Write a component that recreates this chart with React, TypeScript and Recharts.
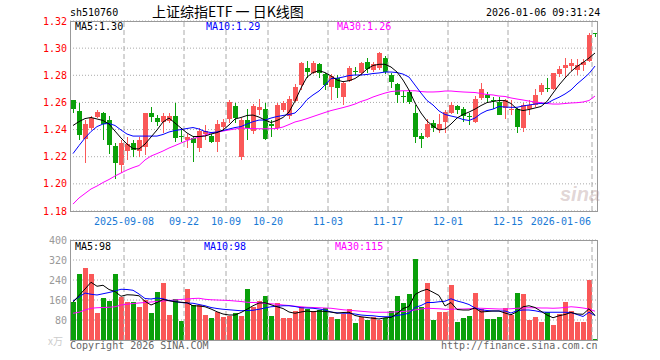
import React from 'react';
import { ComposedChart, Bar, Line, XAxis, YAxis, CartesianGrid, ReferenceLine } from 'recharts';

const dates = [
  '2025-08-26', '2025-08-27', '2025-08-28', '2025-08-29', '2025-09-01', '2025-09-02', '2025-09-03', '2025-09-04', '2025-09-05', '2025-09-08',
  '2025-09-09', '2025-09-10', '2025-09-11', '2025-09-12', '2025-09-15', '2025-09-16', '2025-09-17', '2025-09-18', '2025-09-19', '2025-09-22',
  '2025-09-23', '2025-09-24', '2025-09-25', '2025-09-26', '2025-09-29', '2025-09-30', '2025-10-09', '2025-10-10', '2025-10-13', '2025-10-14',
  '2025-10-15', '2025-10-16', '2025-10-17', '2025-10-20', '2025-10-21', '2025-10-22', '2025-10-23', '2025-10-24', '2025-10-27', '2025-10-28',
  '2025-10-29', '2025-10-30', '2025-10-31', '2025-11-03', '2025-11-04', '2025-11-05', '2025-11-06', '2025-11-07', '2025-11-10', '2025-11-11',
  '2025-11-12', '2025-11-13', '2025-11-14', '2025-11-17', '2025-11-18', '2025-11-19', '2025-11-20', '2025-11-21', '2025-11-24', '2025-11-25',
  '2025-11-26', '2025-11-27', '2025-11-28', '2025-12-01', '2025-12-02', '2025-12-03', '2025-12-04', '2025-12-05', '2025-12-08', '2025-12-09',
  '2025-12-10', '2025-12-11', '2025-12-12', '2025-12-15', '2025-12-16', '2025-12-17', '2025-12-18', '2025-12-19', '2025-12-22', '2025-12-23',
  '2025-12-24', '2025-12-25', '2025-12-26', '2025-12-29', '2025-12-30', '2025-12-31', '2026-01-05', '2026-01-06',
];

const opens = [
  1.2618, 1.2537, 1.2331, 1.2409, 1.2490, 1.2524, 1.2470, 1.2279, 1.2139, 1.2244,
  1.2303, 1.2244, 1.2274, 1.2524, 1.2487, 1.2458, 1.2465, 1.2500, 1.2355, 1.2325,
  1.2340, 1.2266, 1.2370, 1.2353, 1.2306, 1.2417, 1.2476, 1.2574, 1.2200, 1.2470,
  1.2392, 1.2544, 1.2550, 1.2440, 1.2410, 1.2544, 1.2500, 1.2610, 1.2728, 1.2851,
  1.2819, 1.2881, 1.2809, 1.2716, 1.2780, 1.2640, 1.2760, 1.2829, 1.2815, 1.2900,
  1.2839, 1.2851, 1.2930, 1.2802, 1.2736, 1.2646, 1.2680, 1.2520, 1.2353, 1.2347,
  1.2446, 1.2397, 1.2458, 1.2524, 1.2574, 1.2549, 1.2497, 1.2458, 1.2630, 1.2655,
  1.2620, 1.2605, 1.2557, 1.2549, 1.2549, 1.2410, 1.2549, 1.2581, 1.2679, 1.2706,
  1.2697, 1.2809, 1.2851, 1.2871, 1.2839, 1.2876, 1.2907, 1.3110,
];
const highs = [
  1.2620, 1.2598, 1.2470, 1.2500, 1.2544, 1.2530, 1.2500, 1.2299, 1.2323, 1.2347,
  1.2323, 1.2343, 1.2525, 1.2568, 1.2507, 1.2520, 1.2524, 1.2598, 1.2400, 1.2370,
  1.2350, 1.2410, 1.2434, 1.2370, 1.2470, 1.2475, 1.2618, 1.2594, 1.2483, 1.2550,
  1.2590, 1.2623, 1.2594, 1.2470, 1.2594, 1.2610, 1.2645, 1.2735, 1.2895, 1.2905,
  1.2905, 1.2893, 1.2815, 1.2810, 1.2802, 1.2753, 1.2870, 1.2863, 1.2900, 1.2925,
  1.2900, 1.2969, 1.2940, 1.2815, 1.2741, 1.2686, 1.2690, 1.2581, 1.2373, 1.2476,
  1.2470, 1.2515, 1.2544, 1.2601, 1.2580, 1.2568, 1.2520, 1.2645, 1.2746, 1.2680,
  1.2640, 1.2640, 1.2623, 1.2618, 1.2557, 1.2594, 1.2620, 1.2697, 1.2741, 1.2778,
  1.2820, 1.2868, 1.2925, 1.2918, 1.2918, 1.2920, 1.3114, 1.3110,
];
const lows = [
  1.2520, 1.2323, 1.2156, 1.2397, 1.2483, 1.2323, 1.2220, 1.2034, 1.2078, 1.2176,
  1.2196, 1.2200, 1.2213, 1.2458, 1.2426, 1.2375, 1.2450, 1.2310, 1.2310, 1.2262,
  1.2158, 1.2237, 1.2323, 1.2300, 1.2237, 1.2390, 1.2446, 1.2446, 1.2176, 1.2323,
  1.2370, 1.2507, 1.2323, 1.2347, 1.2397, 1.2530, 1.2480, 1.2600, 1.2692, 1.2778,
  1.2810, 1.2778, 1.2692, 1.2618, 1.2630, 1.2581, 1.2750, 1.2800, 1.2805, 1.2820,
  1.2826, 1.2840, 1.2810, 1.2704, 1.2598, 1.2594, 1.2590, 1.2299, 1.2262, 1.2335,
  1.2384, 1.2377, 1.2377, 1.2515, 1.2515, 1.2458, 1.2433, 1.2446, 1.2618, 1.2605,
  1.2552, 1.2507, 1.2478, 1.2507, 1.2377, 1.2384, 1.2507, 1.2569, 1.2655, 1.2679,
  1.2690, 1.2790, 1.2790, 1.2834, 1.2800, 1.2834, 1.2900, 1.3084,
];
const closes = [
  1.2549, 1.2360, 1.2441, 1.2483, 1.2532, 1.2441, 1.2286, 1.2151, 1.2299, 1.2291,
  1.2249, 1.2323, 1.2520, 1.2490, 1.2458, 1.2500, 1.2500, 1.2340, 1.2345, 1.2345,
  1.2303, 1.2392, 1.2390, 1.2311, 1.2441, 1.2458, 1.2605, 1.2487, 1.2470, 1.2409,
  1.2574, 1.2564, 1.2330, 1.2425, 1.2581, 1.2598, 1.2625, 1.2716, 1.2888, 1.2826,
  1.2893, 1.2819, 1.2728, 1.2795, 1.2710, 1.2741, 1.2851, 1.2822, 1.2888, 1.2850,
  1.2880, 1.2962, 1.2826, 1.2748, 1.2654, 1.2640, 1.2601, 1.2347, 1.2331, 1.2441,
  1.2409, 1.2441, 1.2532, 1.2581, 1.2544, 1.2500, 1.2494, 1.2623, 1.2697, 1.2630,
  1.2615, 1.2507, 1.2618, 1.2551, 1.2417, 1.2581, 1.2581, 1.2655, 1.2728, 1.2704,
  1.2815, 1.2844, 1.2876, 1.2893, 1.2876, 1.2900, 1.3097, 1.3108,
];

const ma5 = [
  1.2430, 1.2459, 1.2481, 1.2489, 1.2478, 1.2467, 1.2441, 1.2389, 1.2338, 1.2293,
  1.2260, 1.2257, 1.2293, 1.2345, 1.2397, 1.2456, 1.2485, 1.2448, 1.2411, 1.2375,
  1.2349, 1.2349, 1.2352, 1.2367, 1.2378, 1.2397, 1.2434, 1.2478, 1.2489, 1.2504,
  1.2507, 1.2492, 1.2470, 1.2452, 1.2467, 1.2489, 1.2529, 1.2610, 1.2706, 1.2787,
  1.2820, 1.2834, 1.2820, 1.2795, 1.2765, 1.2753, 1.2760, 1.2776, 1.2806, 1.2846,
  1.2872, 1.2881, 1.2881, 1.2861, 1.2824, 1.2765, 1.2691, 1.2596, 1.2522, 1.2463,
  1.2426, 1.2397, 1.2404, 1.2441, 1.2485, 1.2511, 1.2529, 1.2551, 1.2577, 1.2599,
  1.2607, 1.2614, 1.2613, 1.2592, 1.2551, 1.2540, 1.2548, 1.2559, 1.2570, 1.2607,
  1.2669, 1.2728, 1.2780, 1.2828, 1.2865, 1.2894, 1.2927, 1.2964,
];
const ma10 = [
  1.2223, 1.2282, 1.2338, 1.2386, 1.2422, 1.2441, 1.2445, 1.2430, 1.2397, 1.2367,
  1.2352, 1.2352, 1.2352, 1.2352, 1.2352, 1.2364, 1.2382, 1.2393, 1.2400, 1.2408,
  1.2415, 1.2404, 1.2386, 1.2378, 1.2382, 1.2393, 1.2404, 1.2415, 1.2422, 1.2441,
  1.2458, 1.2470, 1.2470, 1.2485, 1.2496, 1.2504, 1.2511, 1.2522, 1.2566, 1.2621,
  1.2655, 1.2684, 1.2728, 1.2776, 1.2778, 1.2787, 1.2798, 1.2802, 1.2802, 1.2806,
  1.2813, 1.2817, 1.2824, 1.2824, 1.2820, 1.2809, 1.2787, 1.2728, 1.2669, 1.2614,
  1.2581, 1.2537, 1.2511, 1.2500, 1.2490, 1.2474, 1.2467, 1.2485, 1.2518, 1.2540,
  1.2551, 1.2570, 1.2566, 1.2564, 1.2564, 1.2574, 1.2581, 1.2588, 1.2593, 1.2593,
  1.2618, 1.2638, 1.2662, 1.2692, 1.2736, 1.2773, 1.2813, 1.2868,
];
const ma30 = [
  1.1851, 1.1896, 1.1929, 1.1962, 1.1984, 1.2010, 1.2032, 1.2058, 1.2080, 1.2102,
  1.2120, 1.2135, 1.2176, 1.2205, 1.2223, 1.2242, 1.2264, 1.2282, 1.2301, 1.2319,
  1.2334, 1.2345, 1.2360, 1.2375, 1.2380, 1.2389, 1.2397, 1.2404, 1.2411, 1.2409,
  1.2408, 1.2406, 1.2406, 1.2406, 1.2408, 1.2419, 1.2437, 1.2456, 1.2467, 1.2481,
  1.2496, 1.2511, 1.2526, 1.2540, 1.2551, 1.2562, 1.2574, 1.2588, 1.2607, 1.2621,
  1.2640, 1.2655, 1.2669, 1.2680, 1.2684, 1.2686, 1.2686, 1.2686, 1.2680, 1.2677,
  1.2677, 1.2679, 1.2684, 1.2684, 1.2680, 1.2677, 1.2675, 1.2673, 1.2666, 1.2658,
  1.2655, 1.2647, 1.2644, 1.2633, 1.2625, 1.2618, 1.2610, 1.2603, 1.2598, 1.2592,
  1.2588, 1.2588, 1.2592, 1.2596, 1.2598, 1.2603, 1.2614, 1.2647,
];

// volume in 万
const volumes = [
  153, 264, 289, 264, 109, 169, 157, 264, 173, 151,
  151, 133, 160, 109, 193, 229, 100, 164, 77, 204,
  140, 140, 100, 89, 111, 93, 97, 109, 97, 204,
  133, 156, 177, 97, 149, 89, 89, 116, 133, 124,
  116, 120, 127, 93, 84, 103, 124, 69, 93, 80,
  93, 80, 87, 116, 177, 149, 184, 324, 133, 229,
  80, 111, 111, 220, 73, 89, 97, 189, 123, 84,
  84, 92, 129, 100, 189, 184, 80, 93, 73, 111,
  60, 104, 153, 115, 73, 73, 240, 4,
];
const volMa5 = [
  151, 178, 204, 231, 215, 219, 202, 194, 175, 181,
  180, 177, 155, 140, 150, 162, 157, 153, 151, 149,
  137, 136, 133, 124, 113, 104, 100, 100, 110, 123,
  137, 148, 149, 141, 133, 126, 112, 107, 112, 116,
  113, 116, 114, 112, 107, 110, 111, 98, 93, 90,
  87, 84, 89, 90, 105, 126, 134, 182, 195, 203,
  191, 178, 136, 150, 122, 120, 120, 128, 112, 114,
  116, 116, 108, 101, 113, 133, 137, 130, 115, 100,
  89, 97, 102, 110, 104, 103, 125, 98,
];
const volMa10 = [
  156, 172, 188, 183, 180, 185, 190, 196, 203, 202,
  199, 184, 166, 164, 168, 165, 158, 154, 150, 148,
  147, 142, 137, 130, 126, 123, 121, 119, 117, 118,
  119, 123, 128, 133, 135, 137, 137, 134, 129, 128,
  127, 124, 120, 112, 109, 107, 107, 104, 100, 98,
  97, 94, 93, 93, 98, 102, 107, 130, 138, 150,
  150, 153, 155, 165, 156, 150, 142, 128, 121, 118,
  116, 116, 116, 108, 117, 120, 120, 117, 112, 111,
  111, 111, 111, 110, 102, 94, 111, 98,
];
const volMa30 = [
  107, 111, 120, 127, 129, 130, 131, 133, 140, 143,
  146, 148, 150, 152, 154, 156, 158, 160, 162, 164,
  166, 167, 163, 161, 160, 159, 158, 156, 154, 151,
  150, 149, 147, 145, 143, 140, 138, 135, 133, 131,
  130, 129, 128, 127, 124, 121, 119, 117, 115, 113,
  111, 111, 111, 111, 113, 114, 116, 120, 124, 127,
  126, 125, 123, 123, 124, 124, 125, 127, 127, 126,
  125, 124, 124, 125, 127, 128, 129, 129, 128, 128,
  127, 128, 130, 133, 131, 128, 124, 115,
];

const priceTicks = [1.18, 1.2, 1.22, 1.24, 1.26, 1.28, 1.3, 1.32];
const volTicks = [80, 160, 240, 320, 400];
const dateTicks = ['2025-09-08', '2025-09-22', '2025-10-09', '2025-10-20', '2025-11-03', '2025-11-17', '2025-12-01', '2025-12-15', '2026-01-06'];
const dateTickLabels = ['2025-09-08', '09-22', '10-09', '10-20', '11-03', '11-17', '12-01', '12-15', '2026-01-06'];

const RED = '#fa5858';
const GREEN = '#0aa00a';
const BLUE_TXT = '#1a7ad6';
const MONO = '"DejaVu Sans Mono", "Liberation Mono", monospace';

const rows = dates.map((date, i) => ({
  date,
  open: opens[i],
  high: highs[i],
  low: lows[i],
  close: closes[i],
  ma5: ma5[i],
  ma10: ma10[i],
  ma30: ma30[i],
  vol: volumes[i],
  vma5: volMa5[i],
  vma10: volMa10[i],
  vma30: volMa30[i],
}));

const Candle = (props: any) => {
  const { x, y, width, height, payload } = props;
  const { open, close, high, low } = payload;
  const color = close >= open ? RED : GREEN;
  const k = high > low ? height / (high - low) : 0;
  const left = Math.floor(x + width / 2 - 2.5);
  const yTop = Math.round(y);
  const yBot = Math.round(y + height);
  const yO = Math.round(y + (high - open) * k);
  const yC = Math.round(y + (high - close) * k);
  const bodyTop = Math.min(yO, yC);
  const bodyH = Math.max(Math.abs(yO - yC), 1);
  return (
    <g>
      <line x1={left + 2.5} x2={left + 2.5} y1={yTop} y2={Math.max(yBot, yTop + 1)} stroke={color} strokeWidth={1} />
      <rect x={left} y={bodyTop} width={5} height={bodyH} fill={color} />
    </g>
  );
};

const VolBar = (props: any) => {
  const { x, y, width, height, payload } = props;
  const color = payload.close >= payload.open ? RED : GREEN;
  const left = Math.floor(x + width / 2 - 2.5);
  const top = Math.round(y);
  const bottom = Math.round(y + height);
  return <rect x={left} y={top} width={5} height={Math.max(bottom - top, 1)} fill={color} />;
};

const DateTick = (props: any) => {
  const { x, y, payload } = props;
  const idx = dateTicks.indexOf(payload.value);
  const last = idx === dateTicks.length - 1;
  return (
    <text
      x={last ? x - 4 : x - 3}
      y={y + 14}
      textAnchor={last ? 'end' : 'middle'}
      fill={BLUE_TXT}
      fontSize={10}
      fontFamily={MONO}
    >
      {dateTickLabels[idx]}
    </text>
  );
};

const abs = (left: number, top: number, extra: React.CSSProperties = {}): React.CSSProperties => ({
  position: 'absolute',
  left,
  top,
  lineHeight: 1,
  whiteSpace: 'nowrap',
  fontFamily: MONO,
  fontSize: 10,
  ...extra,
});

export default function App() {
  return (
    <div style={{ position: 'relative', width: 660, height: 360, background: '#fff', overflow: 'hidden' }}>
      <style>{'body{margin:0}'}</style>

      {/* header */}
      <div style={abs(70, 8, { color: '#000' })}>sh510760</div>
      <div style={abs(152, 4, { fontFamily: '"Noto Sans CJK SC", sans-serif', fontSize: 14, color: '#000' })}>
        上证综指ETF 一 日K线图
      </div>
      <div style={abs(486, 8, { color: '#000' })}>2026-01-06 09:31:24</div>

      {/* price chart */}
      <div style={{ position: 'absolute', left: 0, top: 0 }}>
        <ComposedChart width={660} height={230} data={rows} margin={{ top: 21, right: 62, bottom: 0, left: 0 }}>
          <CartesianGrid vertical={false} stroke="#aaa" strokeDasharray="1 2" />
          <XAxis
            dataKey="date"
            ticks={dateTicks}
            interval={0}
            height={19}
            tickSize={0}
            tickMargin={0}
            axisLine={false}
            tick={<DateTick />}
          />
          <YAxis
            domain={[1.18, 1.32]}
            ticks={priceTicks}
            interval={0}
            allowDataOverflow
            width={70}
            tickSize={0}
            tickMargin={3}
            axisLine={false}
            tickFormatter={(v: number) => v.toFixed(2)}
            tick={{ fill: '#f00', fontSize: 10, fontFamily: MONO }}
          />
          {dateTicks.map((d) => (
            <ReferenceLine key={d} x={d} position="start" stroke="#aaa" strokeDasharray="5 3" />
          ))}
          <Bar dataKey={(d: any) => [d.low, d.high]} barSize={5} shape={<Candle />} isAnimationActive={false} />
          <Line type="linear" dataKey="ma30" stroke="#ff00ff" strokeWidth={1} dot={false} activeDot={false} isAnimationActive={false} />
          <Line type="linear" dataKey="ma10" stroke="#0000ff" strokeWidth={1} dot={false} activeDot={false} isAnimationActive={false} />
          <Line type="linear" dataKey="ma5" stroke="#000" strokeWidth={1} dot={false} activeDot={false} isAnimationActive={false} />
        </ComposedChart>
      </div>

      {/* volume chart */}
      <div style={{ position: 'absolute', left: 0, top: 230 }}>
        <ComposedChart width={660} height={110} data={rows} margin={{ top: 10, right: 62, bottom: 0, left: 0 }}>
          <CartesianGrid vertical={false} stroke="#aaa" strokeDasharray="1 2" />
          <XAxis dataKey="date" hide />
          <YAxis
            domain={[0, 400]}
            ticks={volTicks}
            interval={0}
            allowDataOverflow
            width={70}
            tickSize={0}
            tickMargin={3}
            axisLine={false}
            tick={{ fill: '#999', fontSize: 10, fontFamily: MONO }}
          />
          {dateTicks.map((d) => (
            <ReferenceLine key={d} x={d} position="start" stroke="#aaa" strokeDasharray="5 3" />
          ))}
          <Bar dataKey="vol" barSize={5} shape={<VolBar />} isAnimationActive={false} />
          <Line type="linear" dataKey="vma30" stroke="#ff00ff" strokeWidth={1} dot={false} activeDot={false} isAnimationActive={false} />
          <Line type="linear" dataKey="vma10" stroke="#0000ff" strokeWidth={1} dot={false} activeDot={false} isAnimationActive={false} />
          <Line type="linear" dataKey="vma5" stroke="#000" strokeWidth={1} dot={false} activeDot={false} isAnimationActive={false} />
        </ComposedChart>
      </div>

      {/* frames */}
      <div style={{ position: 'absolute', left: 70, top: 21, width: 528, height: 191, boxSizing: 'border-box', border: '1px solid #999' }} />
      <div style={{ position: 'absolute', left: 70, top: 240, width: 528, height: 101, boxSizing: 'border-box', border: '1px solid #999' }} />

      {/* legends */}
      <div style={abs(75, 22, { color: '#000' })}>MA5:1.30</div>
      <div style={abs(206, 22, { color: '#0000ff' })}>MA10:1.29</div>
      <div style={abs(337, 22, { color: '#ff00ff' })}>MA30:1.26</div>
      <div style={abs(75, 242, { color: '#000' })}>MA5:98</div>
      <div style={abs(204, 242, { color: '#0000ff' })}>MA10:98</div>
      <div style={abs(335, 242, { color: '#ff00ff' })}>MA30:115</div>

      {/* watermark */}
      <div style={abs(560, 184, { fontFamily: '"Liberation Sans", sans-serif', fontSize: 20, fontStyle: 'italic', fontWeight: 'bold', color: 'rgba(180,150,150,0.4)' })}>
        sina
      </div>

      {/* unit + footer */}
      <div style={abs(48, 336, { fontFamily: '"Noto Sans CJK SC", sans-serif', fontSize: 10, color: '#ccc' })}>x万</div>
      <div style={abs(70, 341, { color: '#666' })}>Copyright 2026 SINA.COM</div>
      <div style={abs(441, 341, { color: '#666' })}>http://finance.sina.com.cn</div>
    </div>
  );
}
